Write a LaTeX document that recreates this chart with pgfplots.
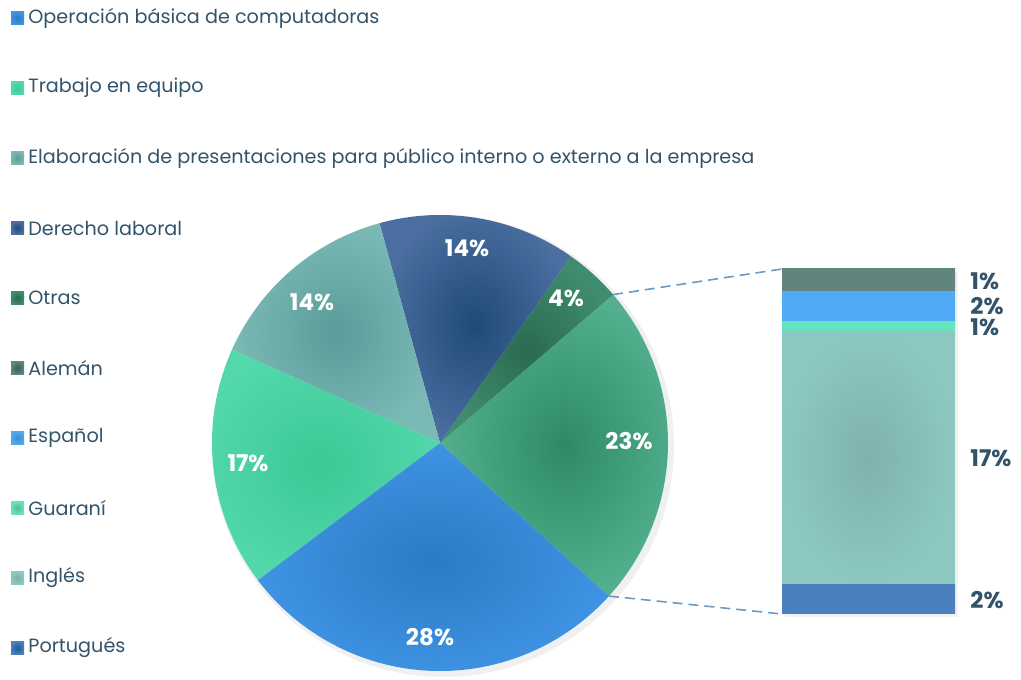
\documentclass[border=0pt]{standalone}
\usepackage{fontspec}
\setmainfont{Poppins}
\usepackage{pgfplots}
\pgfplotsset{compat=1.18}

\definecolor{txt}{HTML}{33536B}
\definecolor{link}{HTML}{6A9AC4}
% slice colours: centre / edge
\definecolor{opC}{HTML}{2B7BC4}\definecolor{opE}{HTML}{3F93E3}
\definecolor{trC}{HTML}{3DC896}\definecolor{trE}{HTML}{52D8AA}
\definecolor{elC}{HTML}{5A9C9A}\definecolor{elE}{HTML}{7BB9B5}
\definecolor{deC}{HTML}{1F4A78}\definecolor{deE}{HTML}{4A6FA0}
\definecolor{otC}{HTML}{2A6A50}\definecolor{otE}{HTML}{408C6E}
\definecolor{grC}{HTML}{2E8A66}\definecolor{grE}{HTML}{52B08E}
% bar colours
\definecolor{alC}{HTML}{355F5A}\definecolor{alE}{HTML}{60857F}
\definecolor{esC}{HTML}{3F8CCC}\definecolor{esE}{HTML}{4EAAF5}
\definecolor{guC}{HTML}{56B896}\definecolor{guE}{HTML}{68E3BE}
\definecolor{inC}{HTML}{7FB2AC}\definecolor{inE}{HTML}{8CC8C1}
\definecolor{poC}{HTML}{1E5C8C}\definecolor{poE}{HTML}{4A80C0}

% pie values (%), counter-clockwise from the "other" slice
\def\vGrupo{23}\def\vOtras{4}\def\vDerecho{14}\def\vElab{14}\def\vTrabajo{17}\def\vOper{28}
\pgfmathsetmacro{\angA}{-42.2}
\pgfmathsetmacro{\angB}{\angA+3.6*\vGrupo}
\pgfmathsetmacro{\angC}{\angB+3.6*\vOtras}
\pgfmathsetmacro{\angD}{\angC+3.6*\vDerecho}
\pgfmathsetmacro{\angE}{\angD+3.6*\vElab}
\pgfmathsetmacro{\angF}{\angE+3.6*\vTrabajo}
\pgfmathsetmacro{\angG}{\angF+3.6*\vOper}

% pie centre (440,228), radius 228 in px units (x=y=0.5pt)
\newcommand{\slice}[4]{%
  \shade[inner color=#3, outer color=#4] (axis cs:440,228) --
    (axis cs:{440+228*cos(#1)},{228+228*sin(#1)})
    arc[start angle=#1, end angle=#2, radius=114pt] -- cycle;}

% legend row: y (px, up), centre colour, edge colour, text
\newcommand{\legrow}[4]{%
  \shade[inner color=#2, outer color=#3] (axis cs:11,#1-6.5) rectangle (axis cs:24,#1+6.5);
  \node[anchor=west, inner sep=0pt, text=txt, font=\fontsize{9.6}{11}\selectfont]
    at (axis cs:28,#1) {#4};}
\newcommand{\barlab}[2]{%
  \node[anchor=west, inner sep=0pt, text=txt, font=\bfseries\fontsize{11.5}{13}\selectfont]
    at (axis cs:970,#1) {#2};}

\begin{document}
\begin{tikzpicture}
\begin{axis}[
    name=main, hide axis, scale only axis,
    x=0.5pt, y=0.5pt,
    xmin=0, xmax=1021, ymin=0, ymax=671,
    clip=false,
]
\path (axis cs:0,0) rectangle (axis cs:1021,671);

% soft shadow under the pie and the bar
\fill[black, opacity=0.06] (axis cs:443,225) circle[radius=115.5pt];
\fill[black, opacity=0.05] (axis cs:785,54) rectangle (axis cs:958,399);

\slice{\angA}{\angB}{grC}{grE}
\slice{\angB}{\angC}{otC}{otE}
\slice{\angC}{\angD}{deC}{deE}
\slice{\angD}{\angE}{elC}{elE}
\slice{\angE}{\angF}{trC}{trE}
\slice{\angF}{\angG}{opC}{opE}

\begin{scope}[font=\bfseries\fontsize{11.5}{13}\selectfont, text=white]
\node at (axis cs:467,423) {14\%};
\node at (axis cs:566,373) {4\%};
\node at (axis cs:312,369) {14\%};
\node at (axis cs:629,230) {23\%};
\node at (axis cs:248,208) {17\%};
\node at (axis cs:430,34) {28\%};
\end{scope}

% connector lines to the bar
\addplot[link, thick, dash pattern=on 5pt off 3pt] coordinates {(613.1,376.4)(782,402)};
\addplot[link, thick, dash pattern=on 5pt off 3pt] coordinates {(608.9,74.9)(782,57)};
\coordinate (barSW) at (axis cs:782,57);

\legrow{653}{opC}{opE}{Operación básica de computadoras}
\legrow{583}{trC}{trE}{Trabajo en equipo}
\legrow{513}{elC}{elE}{Elaboración de presentaciones para público interno o externo a la empresa}
\legrow{443}{deC}{deE}{Derecho laboral}
\legrow{373}{otC}{otE}{Otras}
\legrow{303}{alC}{alE}{Alemán}
\legrow{233}{esC}{esE}{Español}
\legrow{163}{guC}{guE}{Guaraní}
\legrow{93}{inC}{inE}{Inglés}
\legrow{23}{poC}{poE}{Portugués}

% labels of the bar segments
\barlab{71}{2\%}
\barlab{213}{17\%}
\barlab{344}{1\%}
\barlab{365}{2\%}
\barlab{390}{1\%}
\end{axis}

\begin{axis}[
    at={(barSW)}, anchor=south west,
    scale only axis, width=86.5pt, height=172.5pt,
    hide axis,
    xmin=-0.5, xmax=0.5, ymin=0, ymax=23.01,
    ybar stacked, bar width=86.5pt,
]
\addplot[draw=none, left color=poE, middle color=poC, right color=poE] coordinates {(0,2.0)};
\addplot[draw=none, inner color=inC, outer color=inE] coordinates {(0,16.87)};
\addplot[draw=none, left color=guE, middle color=guC, right color=guE] coordinates {(0,0.67)};
\addplot[draw=none, left color=esE, middle color=esC, right color=esE] coordinates {(0,2.0)};
\addplot[draw=none, left color=alE, middle color=alC, right color=alE] coordinates {(0,1.47)};
\end{axis}
\end{tikzpicture}
\end{document}
